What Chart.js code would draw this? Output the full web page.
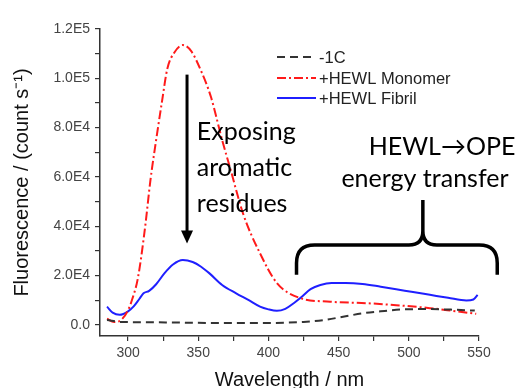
<!DOCTYPE html>
<html>
<head>
<meta charset="utf-8">
<script src="https://cdn.jsdelivr.net/npm/chart.js@4.4.0/dist/chart.umd.min.js"></script>
<style>
  html, body { margin: 0; padding: 0; background: #fff; }
</style>
</head>
<body>
<canvas id="fluorChart" width="517" height="388"></canvas>
<script>
// values (counts per second)
const blankNm = [285, 295, 310, 330, 360, 400, 425, 440, 455, 467, 480, 491, 505, 515, 530, 547];
const blankCounts = [2000, 1200, 1100, 1000, 800, 800, 1200, 2000, 3500, 4700, 5500, 6100, 6400, 6400, 6200, 5800];

const monomerNm = [285, 290, 295, 300, 303, 307, 312, 316, 320, 324, 328, 333, 339, 345, 352, 359, 367, 373, 382, 394, 406, 422, 444, 470, 491, 515, 530, 548];
const monomerCounts = [2500, 1200, 2000, 6000, 10500, 19000, 39000, 59000, 75000, 90000, 104000, 110500, 113500, 111000, 103000, 92500, 75000, 63000, 45000, 29000, 17000, 11000, 9400, 8800, 8000, 6800, 5800, 4500];

const fibrilNm = [285, 289, 294, 300, 304, 308, 311, 315, 320, 326, 332, 339, 346, 352, 358, 367, 377, 386, 394, 400, 406, 412, 418, 424, 430, 437, 445, 455, 467, 480, 491, 503, 515, 528, 541, 546, 549];
const fibrilCounts = [7400, 5000, 4100, 5500, 7500, 10500, 12800, 13800, 16500, 21000, 24500, 26300, 25500, 23600, 20900, 16200, 12800, 10000, 7400, 6300, 5700, 6500, 8800, 11500, 14500, 16200, 17000, 17000, 16600, 15500, 14500, 13300, 12200, 11000, 9900, 10300, 12200];

const seriesLabels = ['-1C', '+HEWL Monomer', '+HEWL Fibril'];
const xTickValues = [300, 325, 350, 375, 400, 425, 450, 475, 500, 525, 550];
const yTickValues = [0, 10000, 20000, 30000, 40000, 50000, 60000, 70000, 80000, 90000, 100000, 110000, 120000];

function toPoints(xs, ys) {
  return xs.map((x, i) => ({ x: x, y: ys[i] }));
}

function sciLabel(v) {
  if (v === 0) return '0.0';
  return v.toExponential(1).toUpperCase().replace('+', '');
}

// arrow, brace and text notes, placed in data units
const annotations = {
  id: 'annotations',
  afterDraw(chart) {
    const ctx = chart.ctx;
    const xs = chart.scales.x;
    const ys = chart.scales.y;
    ctx.save();

    // down arrow
    const ax = xs.getPixelForValue(342);
    const aTop = ys.getPixelForValue(101500);
    const aTip = ys.getPixelForValue(33000);
    ctx.strokeStyle = '#000';
    ctx.fillStyle = '#000';
    ctx.lineWidth = 3;
    ctx.beginPath();
    ctx.moveTo(ax, aTop);
    ctx.lineTo(ax, aTip - 11);
    ctx.stroke();
    ctx.beginPath();
    ctx.moveTo(ax - 6, aTip - 13);
    ctx.lineTo(ax + 6, aTip - 13);
    ctx.lineTo(ax, aTip);
    ctx.closePath();
    ctx.fill();

    // curly brace
    const L = xs.getPixelForValue(420);
    const R = xs.getPixelForValue(563);
    const M = xs.getPixelForValue(510);
    const yb = ys.getPixelForValue(20300);
    const yh = ys.getPixelForValue(32400);
    const yt = ys.getPixelForValue(50700);
    const r = 18, r2 = 14;
    ctx.lineWidth = 3.5;
    ctx.lineJoin = 'round';
    ctx.beginPath();
    ctx.moveTo(L, yb);
    ctx.lineTo(L, yh + r);
    ctx.quadraticCurveTo(L, yh, L + r, yh);
    ctx.lineTo(M - r2, yh);
    ctx.quadraticCurveTo(M, yh, M, yh - r2);
    ctx.lineTo(M, yt);
    ctx.moveTo(M, yh - r2);
    ctx.quadraticCurveTo(M, yh, M + r2, yh);
    ctx.lineTo(R - r, yh);
    ctx.quadraticCurveTo(R, yh, R, yh + r);
    ctx.lineTo(R, yb);
    ctx.stroke();

    // notes
    ctx.font = '25px Lato, "Open Sans", sans-serif';
    ctx.fillStyle = '#000';
    ctx.textBaseline = 'alphabetic';
    ctx.textAlign = 'left';
    const tx = xs.getPixelForValue(349);
    ctx.fillText('Exposing', tx, 140);
    ctx.fillText('aromatic', tx, 176);
    ctx.fillText('residues', tx, 212);
    ctx.textAlign = 'center';
    ctx.fillText('HEWL\u2192OPE', 442, 155);
    ctx.fillText('energy transfer', 425, 187);

    // legend
    ctx.font = '16.5px "Liberation Sans", Arial, sans-serif';
    ctx.textAlign = 'left';
    ctx.textBaseline = 'middle';
    const rows = [57, 78, 98];
    chart.data.datasets.forEach((ds, i) => {
      ctx.strokeStyle = ds.borderColor;
      ctx.lineWidth = 2;
      ctx.setLineDash(ds.borderDash || []);
      ctx.beginPath();
      ctx.moveTo(277, rows[i]);
      ctx.lineTo(316, rows[i]);
      ctx.stroke();
      ctx.setLineDash([]);
      ctx.fillStyle = '#222';
      ctx.fillText(ds.label, 319, rows[i] + 1);
    });
    ctx.restore();
  }
};

const ctx = document.getElementById('fluorChart').getContext('2d');
new Chart(ctx, {
  type: 'line',
  data: {
    datasets: [{
      label: seriesLabels[0],
      data: toPoints(blankNm, blankCounts),
      borderColor: '#333333',
      borderWidth: 2,
      borderDash: [8, 5],
      pointRadius: 0,
      cubicInterpolationMode: 'monotone'
    }, {
      label: seriesLabels[1],
      data: toPoints(monomerNm, monomerCounts),
      borderColor: '#ff1a1a',
      borderWidth: 2,
      borderDash: [9, 3, 2, 3],
      pointRadius: 0,
      cubicInterpolationMode: 'monotone'
    }, {
      label: seriesLabels[2],
      data: toPoints(fibrilNm, fibrilCounts),
      borderColor: '#1f1fff',
      borderWidth: 2,
      pointRadius: 0,
      cubicInterpolationMode: 'monotone'
    }]
  },
  options: {
    responsive: false,
    animation: false,
    devicePixelRatio: 1,
    layout: { padding: { top: 29, right: 38, left: 0, bottom: 0 } },
    plugins: {
      legend: { display: false },
      tooltip: { enabled: false }
    },
    scales: {
      x: {
        type: 'linear',
        min: 280,
        max: 550,
        afterBuildTicks: (scale) => { scale.ticks = xTickValues.map(v => ({ value: v })); },
        afterFit: (scale) => { scale.height = 52; },
        ticks: {
          autoSkip: false,
          maxRotation: 0,
          padding: 4,
          color: '#444',
          font: { family: '"Liberation Sans", Arial, sans-serif', size: 14 },
          callback: (v) => (v % 50 === 0 ? String(v) : '')
        },
        grid: { drawOnChartArea: false, tickLength: 5, color: '#333', lineWidth: 1.2 },
        border: { color: '#333', width: 1.5 },
        title: {
          display: true,
          text: 'Wavelength / nm',
          color: '#111',
          padding: { top: 0, bottom: 0 },
          font: { family: '"Liberation Sans", Arial, sans-serif', size: 20, lineHeight: 0.75 }
        }
      },
      y: {
        min: -4500,
        max: 120000,
        afterBuildTicks: (scale) => { scale.ticks = yTickValues.map(v => ({ value: v })); },
        afterFit: (scale) => { scale.width = 100; },
        ticks: {
          autoSkip: false,
          padding: 5,
          color: '#444',
          font: { family: '"Liberation Sans", Arial, sans-serif', size: 14 },
          callback: (v) => (v % 20000 === 0 ? sciLabel(v) : '')
        },
        grid: { drawOnChartArea: false, tickLength: 5, color: '#333', lineWidth: 1.2 },
        border: { color: '#333', width: 1.5 },
        title: {
          display: true,
          text: 'Fluorescence / (count s\u207B\u00B9)',
          color: '#111',
          padding: { top: 10, bottom: 0 },
          font: { family: '"Liberation Sans", Arial, sans-serif', size: 20 }
        }
      }
    }
  },
  plugins: [annotations]
});
</script>
</body>
</html>
